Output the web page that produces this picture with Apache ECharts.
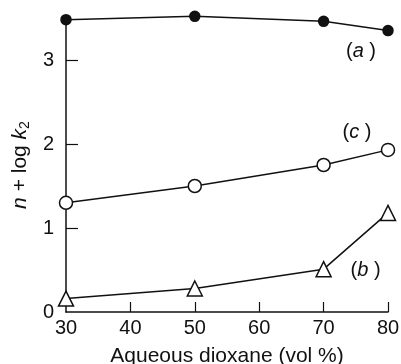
<!DOCTYPE html>
<html>
<head>
<meta charset="utf-8">
<script src="https://cdn.jsdelivr.net/npm/echarts@6/dist/echarts.min.js"></script>
<style>
  html, body { margin: 0; padding: 0; background: #fff; }
  #chart { width: 401px; height: 364px; }
</style>
</head>
<body>
<div id="chart"></div>
<script>
const dioxane = [30, 50, 70, 80]
const seriesA = [3.48, 3.52, 3.46, 3.35]
const seriesB = [0.16, 0.28, 0.51, 1.18]
const seriesC = [1.30, 1.50, 1.75, 1.93]
const xTicks = [40, 50, 60, 70, 80]
const xLabels = [30, 40, 50, 60, 70, 80]
const yTicks = [1, 2, 3]
const yLabels = [0, 1, 2, 3]

const font = "Liberation Sans, Arial, sans-serif"
const ink = "#111"

const pairs = (ys) => dioxane.map((x, i) => [x, ys[i]])

// tag one point of a curve with its letter, e.g. "(a)"
const tagged = (ys, idx, letter, offset) =>
  pairs(ys).map((p, i) => i !== idx ? p : {
    value: p,
    label: {
      show: true,
      position: "inside",
      offset: offset,
      formatter: "({i|" + letter + "} )",
      fontFamily: font,
      fontSize: 20,
      color: ink,
      rich: { i: { fontStyle: "italic", fontFamily: font, fontSize: 20, color: ink } },
    },
  })

const chart = echarts.init(document.getElementById("chart"))

const lineSeries = (name, data, symbol, fill, size) => ({
  name: name,
  type: "line",
  data: data,
  symbol: symbol,
  symbolSize: size,
  showAllSymbol: true,
  clip: false,
  lineStyle: { color: ink, width: 1.5 },
  itemStyle: { color: fill, borderColor: ink, borderWidth: 1.5 },
  z: 3,
})

chart.setOption({
  animation: false,
  grid: { left: 66, right: 13, top: 18, bottom: 52, outerBoundsMode: "none", containLabel: false },
  xAxis: {
    type: "value",
    min: 30,
    max: 80,
    interval: 10,
    name: "Aqueous dioxane (vol %)",
    nameLocation: "middle",
    nameGap: 34,
    nameTextStyle: { fontFamily: font, fontSize: 21, color: ink },
    axisLine: { lineStyle: { color: ink, width: 1.5 } },
    axisTick: { inside: true, length: 10, customValues: xTicks, lineStyle: { color: ink, width: 1.2 } },
    axisLabel: { customValues: xLabels, fontFamily: font, fontSize: 20, color: ink, margin: 6 },
    splitLine: { show: false },
  },
  yAxis: {
    type: "value",
    min: 0,
    max: 3.5,
    interval: 1,
    name: "{i|n} + log {i|k}{s|2}",
    nameLocation: "middle",
    nameGap: 33,
    nameTextStyle: {
      fontFamily: font,
      fontSize: 21,
      color: ink,
      rich: {
        i: { fontStyle: "italic", fontFamily: font, fontSize: 21, color: ink },
        s: { fontFamily: font, fontSize: 14, color: ink, padding: [10, 0, 0, 0] },
      },
    },
    axisLine: { lineStyle: { color: ink, width: 1.5 } },
    axisTick: { inside: true, length: 12, customValues: yTicks, lineStyle: { color: ink, width: 1.2 } },
    axisLabel: { customValues: yLabels, fontFamily: font, fontSize: 20, color: ink, margin: 12 },
    splitLine: { show: false },
  },
  series: [
    lineSeries("a", tagged(seriesA, 3, "a", [-27, 21]), "circle", ink, 10),
    lineSeries("c", tagged(seriesC, 3, "c", [-31, -17]), "circle", "#fff", 13),
    lineSeries("b", tagged(seriesB, 2, "b", [42, 1]), "triangle", "#fff", 15),
  ],
})
</script>
</body>
</html>
